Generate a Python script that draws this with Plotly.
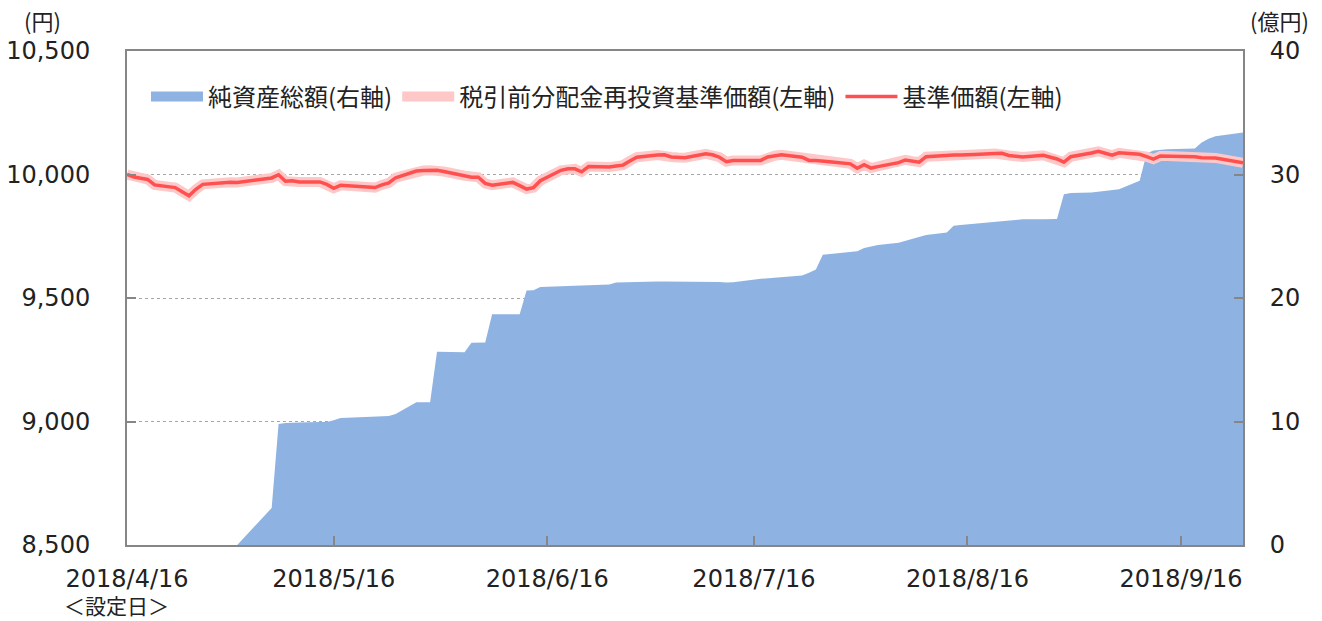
import plotly.graph_objects as go

dates = [
    "2018-04-16", "2018-04-17", "2018-04-18", "2018-04-19", "2018-04-20",
    "2018-04-23", "2018-04-24", "2018-04-25", "2018-04-26", "2018-04-27",
    "2018-05-01", "2018-05-02",
    "2018-05-07", "2018-05-08", "2018-05-09", "2018-05-10", "2018-05-11",
    "2018-05-14", "2018-05-15", "2018-05-16", "2018-05-17", "2018-05-18",
    "2018-05-21", "2018-05-22", "2018-05-23", "2018-05-24", "2018-05-25",
    "2018-05-28", "2018-05-29", "2018-05-30", "2018-05-31", "2018-06-01",
    "2018-06-04", "2018-06-05", "2018-06-06", "2018-06-07", "2018-06-08",
    "2018-06-11", "2018-06-12", "2018-06-13", "2018-06-14", "2018-06-15",
    "2018-06-18", "2018-06-19", "2018-06-20", "2018-06-21", "2018-06-22",
    "2018-06-25", "2018-06-26", "2018-06-27", "2018-06-28", "2018-06-29",
    "2018-07-02", "2018-07-03", "2018-07-04", "2018-07-05", "2018-07-06",
    "2018-07-09", "2018-07-10", "2018-07-11", "2018-07-12", "2018-07-13",
    "2018-07-17", "2018-07-18", "2018-07-19", "2018-07-20",
    "2018-07-23", "2018-07-24", "2018-07-25", "2018-07-26", "2018-07-27",
    "2018-07-30", "2018-07-31", "2018-08-01", "2018-08-02", "2018-08-03",
    "2018-08-06", "2018-08-07", "2018-08-08", "2018-08-09", "2018-08-10",
    "2018-08-13", "2018-08-14", "2018-08-15", "2018-08-16", "2018-08-17",
    "2018-08-20", "2018-08-21", "2018-08-22", "2018-08-23", "2018-08-24",
    "2018-08-27", "2018-08-28", "2018-08-29", "2018-08-30", "2018-08-31",
    "2018-09-03", "2018-09-04", "2018-09-05", "2018-09-06", "2018-09-07",
    "2018-09-10", "2018-09-11", "2018-09-12", "2018-09-13", "2018-09-14",
    "2018-09-18", "2018-09-19", "2018-09-20", "2018-09-21",
    "2018-09-25",
]

nav = [
    10000, 9990, 9985, 9980, 9958,
    9947, 9930, 9914, 9940, 9960,
    9969, 9968,
    9986, 9999, 9973, 9975, 9970,
    9970, 9960, 9944, 9956, 9954,
    9948, 9947, 9958, 9966, 9987,
    10014, 10016, 10017, 10017, 10012,
    9995, 9989, 9989, 9964, 9957,
    9968, 9955, 9941, 9947, 9975,
    10017, 10023, 10023, 10011, 10032,
    10030, 10034, 10038, 10055, 10070,
    10079, 10080, 10071, 10069, 10068,
    10084, 10080, 10070, 10052, 10057,
    10057, 10071, 10076, 10080,
    10070, 10057, 10057, 10056, 10052,
    10043, 10025, 10040, 10026, 10032,
    10048, 10059, 10054, 10050, 10072,
    10079, 10079, 10079, 10079, 10081,
    10085, 10086, 10077, 10074, 10071,
    10078, 10071, 10063, 10050, 10072,
    10087, 10094, 10086, 10078, 10088,
    10082, 10072, 10062, 10075, 10075,
    10072, 10068, 10066, 10067,
    10047,
]

nav_reinvested = list(nav)

net_assets = [
    0, 0, 0, 0, 0,
    0, 0, 0, 0, 0,
    0, 0,
    3.0, 9.8, 9.87, 9.9, 9.92,
    9.95, 9.96, 10.1, 10.28, 10.3,
    10.36, 10.38, 10.4, 10.45, 10.6,
    11.55, 11.55, 11.55, 15.64, 15.64,
    15.6, 16.38, 16.38, 16.4, 18.68,
    18.68, 18.68, 20.6, 20.63, 20.9,
    20.95, 21.02, 21.04, 21.05, 21.06,
    21.1, 21.26, 21.28, 21.3, 21.32,
    21.33, 21.33, 21.33, 21.33, 21.33,
    21.33, 21.32, 21.3, 21.25, 21.27,
    21.55, 21.6, 21.65, 21.72,
    21.82, 22.05, 22.3, 23.5, 23.55,
    23.7, 23.78, 24.05, 24.2, 24.3,
    24.48, 24.65, 24.8, 24.95, 25.1,
    25.3, 25.85, 25.92, 25.97, 26.0,
    26.15, 26.2, 26.25, 26.3, 26.37,
    26.38, 26.4, 26.4, 28.4, 28.5,
    28.55, 28.6, 28.65, 28.7, 28.8,
    29.5, 31.7, 31.95, 32.0, 32.05,
    32.1, 32.6, 32.9, 33.1,
    33.4,
]

tick_dates = ["2018-04-16", "2018-05-16", "2018-06-16", "2018-07-16", "2018-08-16", "2018-09-16"]
tick_labels = ["2018/4/16", "2018/5/16", "2018/6/16", "2018/7/16", "2018/8/16", "2018/9/16"]

series_names = ["純資産総額(右軸)", "税引前分配金再投資基準価額(左軸)", "基準価額(左軸)"]

FONT = "DejaVu Sans, Noto Sans CJK JP"
JFONT = "Noto Sans CJK JP"
TEXT = "#222222"
AXIS_COLOR = "#868686"
BLUE = "rgb(142,179,226)"

fig = go.Figure()
fig.add_trace(go.Scatter(
    x=dates, y=net_assets, name=series_names[0], yaxis="y",
    mode="lines", fill="tozeroy", fillcolor=BLUE,
    line=dict(width=0, color=BLUE), showlegend=False,
))
# legend swatch for the area
fig.add_trace(go.Scatter(
    x=[None], y=[None], name=series_names[0], yaxis="y",
    mode="lines", line=dict(width=16, color=BLUE),
))
fig.add_trace(go.Scatter(
    x=dates, y=nav_reinvested, name=series_names[1], yaxis="y2",
    mode="lines", line=dict(width=10, color="rgb(255,200,200)"),
))
fig.add_trace(go.Scatter(
    x=dates, y=nav, name=series_names[2], yaxis="y2",
    mode="lines", line=dict(width=3.5, color="rgb(255,80,80)"),
))

fig.update_layout(
    width=1322, height=621,
    margin=dict(l=127, r=79, t=51, b=76, autoexpand=False),
    paper_bgcolor="white", plot_bgcolor="white",
    font=dict(family=FONT, size=24, color=TEXT),
    showlegend=True,
    legend=dict(
        orientation="h", x=0.017, y=0.907, xanchor="left", yanchor="middle",
        bgcolor="rgba(0,0,0,0)", font=dict(size=24, family=JFONT, color=TEXT),
        itemwidth=52, traceorder="normal",
    ),
    xaxis=dict(
        type="date", range=["2018-04-16", "2018-09-25"],
        tickvals=tick_dates, ticktext=tick_labels,
        ticks="inside", ticklen=9, tickwidth=1.5, tickcolor=AXIS_COLOR,
        showline=True, linecolor=AXIS_COLOR, linewidth=2, mirror=True,
        showgrid=False, zeroline=False, automargin=False,
        tickfont=dict(size=24, family=FONT, color=TEXT),
        ticklabelstandoff=11,
    ),
    yaxis=dict(
        range=[0, 40], side="right", tickvals=[0, 10, 20, 30, 40],
        ticks="inside", ticklen=9, tickwidth=1.5, tickcolor=AXIS_COLOR,
        showline=True, linecolor=AXIS_COLOR, linewidth=2,
        showgrid=False, zeroline=False, automargin=False,
        tickfont=dict(size=24, family=FONT, color=TEXT),
        ticklabelstandoff=20,
    ),
    yaxis2=dict(
        range=[8500, 10500], side="left", overlaying="y",
        tickvals=[8500, 9000, 9500, 10000, 10500], tickformat=",d",
        ticks="inside", ticklen=9, tickwidth=1.5, tickcolor=AXIS_COLOR,
        showline=True, linecolor=AXIS_COLOR, linewidth=2,
        showgrid=True, gridcolor="#a6a6a6", gridwidth=1, griddash="dot",
        zeroline=False, automargin=False,
        tickfont=dict(size=24, family=FONT, color=TEXT),
        ticklabelstandoff=30,
    ),
    annotations=[
        dict(text="(円)", xref="paper", yref="paper", x=-0.076, y=1.0, yshift=31,
             xanchor="center", yanchor="middle", showarrow=False,
             font=dict(size=22, family=JFONT, color=TEXT)),
        dict(text="(億円)", xref="paper", yref="paper", x=1.033, y=1.0, yshift=31,
             xanchor="center", yanchor="middle", showarrow=False,
             font=dict(size=22, family=JFONT, color=TEXT)),
        dict(text="＜設定日＞", xref="paper", yref="paper", x=-0.058, y=0.0, yshift=-60,
             xanchor="left", yanchor="middle", showarrow=False,
             font=dict(size=21, family=JFONT, color=TEXT)),
    ],
)

fig.write_html("out.html", config={"displayModeBar": False},
               post_script="document.body.style.margin='0';")
